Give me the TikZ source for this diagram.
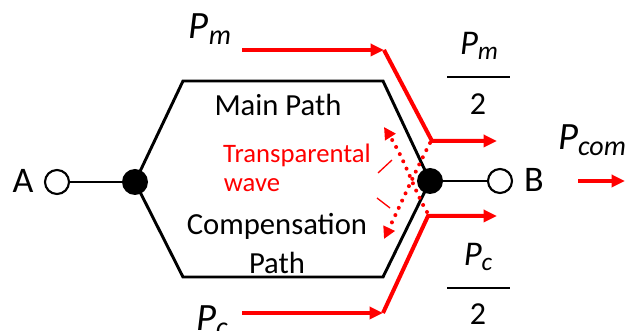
\documentclass[tikz,border=0pt]{standalone}
\usepackage{fontspec}
\setmainfont{Carlito}
\usetikzlibrary{arrows.meta}
\definecolor{myred}{RGB}{255,0,0}
\newcommand{\Pw}[2]{{\itshape P}\raisebox{-0.3ex}{\fontsize{#2}{#2}\selectfont\itshape #1}}
\begin{document}
\begin{tikzpicture}[x=0.75pt,y=-0.75pt,
 blk/.style={line width=2.2pt, black},
 redl/.style={line width=3pt, myred},
 redarr/.style={redl, -{Triangle[length=10pt,width=9pt]}},
 dotarr/.style={myred, line width=3pt, line cap=round, dash pattern=on 0pt off 6pt, -{Triangle[length=9pt,width=9pt]}},
 opendot/.style={circle, draw, line width=1.6pt, fill=white, minimum size=18pt, inner sep=0},
 filldot/.style={circle, fill=black, minimum size=19.5pt, inner sep=0},
 lbl/.style={font=\fontsize{23}{27}\selectfont, inner sep=0},
 termlbl/.style={font=\fontsize{27}{30}\selectfont, inner sep=0},
 plbl/.style={font=\fontsize{29}{31}\selectfont, inner sep=0},
 fraclbl/.style={font=\fontsize{26}{28}\selectfont, inner sep=0},
 rlbl/.style={font=\fontsize{20}{24}\selectfont, text=myred, inner sep=0},
 thin/.style={line width=1pt},
]
\useasboundingbox (0,0) rectangle (629,331);
% hexagon corners
\coordinate (tl) at (183,81);
\coordinate (tr) at (383,81);
\coordinate (br) at (383,277);
\coordinate (bl) at (183,277);
\coordinate (lv) at (135,182);
\coordinate (rv) at (430,181);
\draw[blk] (lv) -- (tl) -- (tr) -- (rv) -- (br) -- (bl) -- cycle;
% terminals
\node[opendot] (a) at (57,182) {};
\node[opendot] (b) at (500,181) {};
\node[filldot] (dl) at (lv) {};
\node[filldot] (dr) at (rv) {};
\draw[blk] (a) -- (dl);
\draw[blk] (dr) -- (b);
\node[termlbl] (la) at (23,181) {A};
\node[termlbl] (lb) at (534,180) {B};
% path labels
\node[lbl] (main) at (278,105) {Main Path};
\node[lbl] (comp) at (277,226) {Compensation};
\node[lbl] (cpath) at (277,263) {Path};
\node[rlbl] (tr1) at (297,155) {Transparental};
\node[rlbl] (tr2) at (252,185) {wave};
% red power paths
\coordinate (pm0) at (242,50);
\coordinate (pm1) at (384,50);
\coordinate (pm2) at (432,141);
\coordinate (pm3) at (497,141);
\draw[redarr] (pm0) -- (pm1);
\draw[redarr] (pm1) -- (pm2) -- (pm3);
\coordinate (pc0) at (242,313);
\coordinate (pc1) at (383,313);
\coordinate (pc2) at (428,216);
\coordinate (pc3) at (497,216);
\draw[redarr] (pc0) -- (pc1);
\draw[redarr] (pc1) -- (pc2) -- (pc3);
\coordinate (pa0) at (578,181);
\coordinate (pa1) at (625,181);
\draw[redarr] (pa0) -- (pa1);
% dotted waves
\coordinate (w1s) at (430,143);
\coordinate (w1e) at (384,239);
\coordinate (w2s) at (427,212);
\coordinate (w2e) at (384,127);
\draw[dotarr] (w1s) .. controls (415,172) and (405,195) .. (w1e);
\draw[dotarr] (w2s) .. controls (414,190) and (405,160) .. (w2e);
% small slashes
\coordinate (s1a) at (378,173);
\coordinate (s1b) at (392,160);
\coordinate (s2a) at (377,198);
\coordinate (s2b) at (390,208);
\draw[myred, thin] (s1a) -- (s1b);
\draw[myred, thin] (s2a) -- (s2b);
% power labels
\node[plbl] (pm) at (210,29) {\Pw{m}{21}};
\node[plbl] (pc) at (212,321) {\Pw{c}{21}};
\node[fraclbl] (pmn) at (479,46) {\Pw{m}{19}};
\coordinate (r1a) at (447,77);
\coordinate (r1b) at (510,77);
\draw[thin] (r1a) -- (r1b);
\node[fraclbl, font=\fontsize{24}{28}\selectfont] (pmd) at (478,104) {2};
\node[fraclbl] (pcn) at (478,257) {\Pw{c}{19}};
\coordinate (r2a) at (447,288);
\coordinate (r2b) at (510,288);
\draw[thin] (r2a) -- (r2b);
\node[fraclbl, font=\fontsize{24}{28}\selectfont] (pcd) at (478,314) {2};
\node[plbl] (pcom) at (592,140) {\Pw{com}{21}};
\end{tikzpicture}
\end{document}
